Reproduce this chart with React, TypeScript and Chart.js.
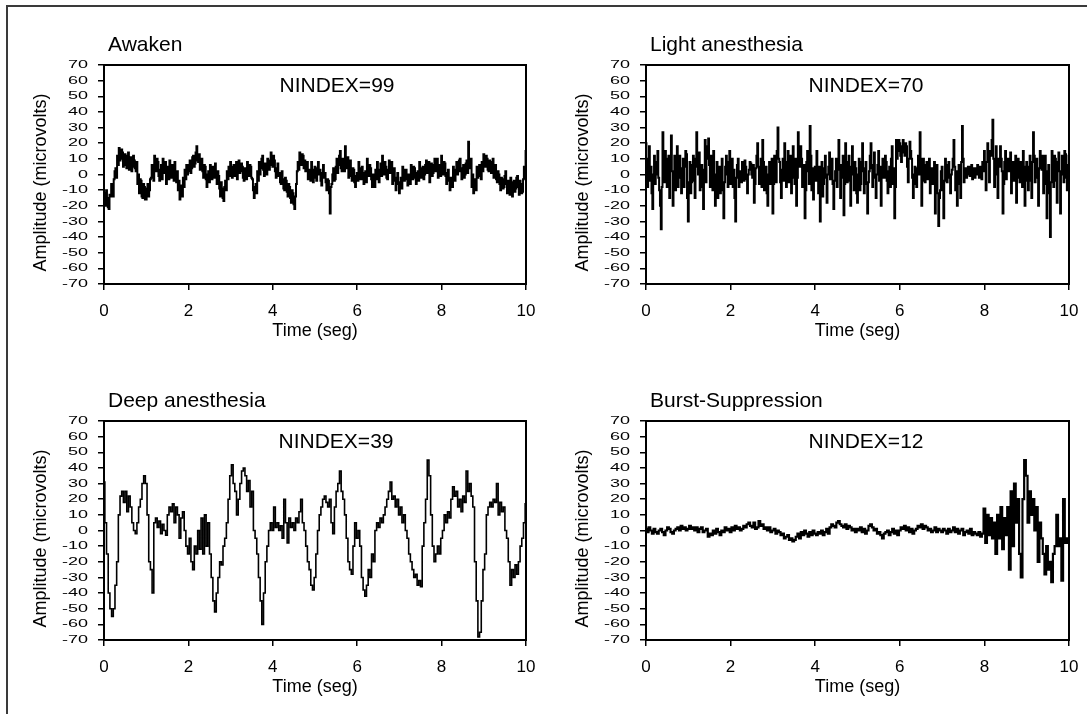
import React, { useEffect, useRef } from "react";
import { Chart, registerables } from "chart.js";

Chart.register(...registerables);

const FONT = '"Liberation Sans", Arial, Helvetica, sans-serif';
Chart.defaults.font.family = FONT;
Chart.defaults.color = "#000";

// ---------- data ----------
const TIME_TICKS = [0, 2, 4, 6, 8, 10];
const AMPLITUDE_TICKS = [70, 60, 50, 40, 30, 20, 10, 0, -10, -20, -30, -40, -50, -60, -70];
const PANEL_TITLES = ["Awaken", "Light anesthesia", "Deep anesthesia", "Burst-Suppression"];
const NINDEX_LABELS = ["NINDEX=99", "NINDEX=70", "NINDEX=39", "NINDEX=12"];
const X_AXIS_TITLE = "Time (seg)";
const Y_AXIS_TITLE = "Amplitude (microvolts)";
// seconds between samples, one per panel
const SAMPLE_INTERVALS = [0.02, 0.02, 0.04, 0.04];

const awakenEEG = [
  -12, -18, -20, -10, -15, -21, -22, -13, -14, -6, -8, -14, -3, 2, 4, -2, 12, 6, 17, 9, 10, 16, 14, 5, 6, 13, 12, 4, 8, 14, 3, 9, 11, 2, 5, 12, 9, 4, 2, 8, -6, 0, -12, -3, -4, -14, -15, -6, -8, -16,
  -16, -9, -6, -14, -10, -3, -2, 6, 4, -4, 12, 5, 2, 10, 8, -1, -4, 3, 6, -3, 10, 3, 1, 8, -6, 0, 5, -3, 9, 2, -2, 6, 3, -4, 8, 0, -5, 2, -10, -4, -16, -11, -7, -14, -2, -8, 3, -3, 6, 0,
  2, 6, 9, 1, 4, 11, 12, 5, 7, 14, 18, 9, 8, 13, 3, 10, 10, 2, -2, 6, 5, -3, -8, 0, 2, -5, 6, -1, -3, 5, 4, -2, 7, 0, -6, 2, -1, -9, -14, -5, -9, -15, -17, -8, -4, -10, 2, -3, 5, -1,
  8, 1, -2, 5, 6, -1, 4, 8, -3, 3, 9, 1, 2, 7, 5, -2, -4, 4, 3, -3, 8, 2, -1, 6, 5, -2, -3, -10, -15, -8, -6, -12, 2, -4, 8, 0, 4, 10, 12, 3, -1, 7, 6, 0, 10, 4, 3, 9, 14, 6,
  5, 12, 9, 2, -2, 4, 7, -1, 1, -5, -6, 2, -3, -9, -10, -2, -4, -11, -14, -6, -8, -15, -18, -10, -12, -19, -22, -14, -6, 2, 8, 3, 14, 7, 6, 13, 12, 4, 9, 2, 4, 8, -3, 3, 2, -4, 8, 1, -5, 3,
  5, -2, -4, 4, 8, 0, 3, -4, -7, 1, 6, -2, 1, -5, -10, -3, -4, -12, -25, -8, -6, 0, 4, -4, -3, 5, 10, 1, 6, 12, 15, 4, 2, 10, 8, 2, 18, 6, 4, 11, -2, 5, 9, -1, -4, 4, 3, -5, -8, -1,
  1, -4, 8, 0, -3, 4, 5, -3, -6, 1, 2, -5, 10, 3, -1, 6, 4, -3, -8, 0, -2, -8, 3, -3, 8, 1, -5, 3, 7, -1, 12, 4, 0, 8, 5, -2, -3, 3, 9, 1, 2, 8, -6, 0, 4, -4, -10, -2, 1, -6,
  -12, -5, -2, -9, 5, -1, -4, 3, 3, -3, -7, 0, 0, -6, 6, 0, -3, 5, 4, -2, -6, 1, 2, -4, 8, 1, -2, 4, 5, -3, 0, 6, 9, 1, 3, 8, -5, 2, 7, -1, 1, 6, 10, 2, 4, 10, -2, 4, 6, -1,
  12, 4, 0, 8, 7, -1, -6, 1, 3, -4, -10, -2, -2, -8, 5, -1, -4, 3, 8, 0, 2, 9, 10, 2, -3, 4, 6, -2, 0, 7, 9, 1, 21, 6, 4, 10, -8, 0, -12, -4, -3, -10, 5, -2, -1, 6, 3, -3, 8, 2,
  13, 6, 5, 12, 10, 3, 2, 9, 8, 1, 4, 10, -2, 3, 6, -3, -5, 2, 0, -6, -10, -2, -3, -9, -8, -1, 2, -6, -12, -4, -6, -13, -2, -8, -14, -5, -4, -11, -9, -2, -1, -8, -13, -4, -6, -12, -11, -3, 5, -2,
  15,
];

const lightEEG = [
  20, 2, -8, 10, 18, -4, 5, -12, -22, 0, 12, -6, 0, 8, 15, -2, -10, -20, -35, -8, 27, 4, -5, 15, 10, -8, 3, 12, -15, 6, 25, 2, -20, -5, 12, -10, 2, 18, -8, 5, 12, -2, -12, 4, 10, -8, 5, 15, 13, -15,
  -30, -5, 8, -12, -5, 6, 12, -4, -15, 10, 27, 5, 0, 14, -10, 2, 6, -8, -22, 3, 22, -5, 10, 18, 23, 6, -8, 12, 4, -10, 15, 0, -20, -6, 8, -15, -5, 5, -12, 2, 10, -10, -28, -5, 5, 12, 0, -8, 8, 15,
  -6, 4, 10, -8, 3, -15, -30, -2, 6, 10, -8, 0, 2, -5, 8, 2, -4, 9, 5, -3, -12, 0, 3, 8, 7, 0, -2, 6, -18, -6, 4, 12, 20, 5, -6, 2, 10, -8, 22, 8, -10, 2, 5, -12, -20, 0, 8, -6, -3, 10,
  -25, -6, 12, 0, -5, 15, 30, 10, 8, -5, -15, 3, 10, -4, 20, 5, -8, 8, 15, -5, 3, 12, -12, 4, 18, -2, -6, 10, -20, -2, 27, 8, 5, 18, 10, -8, -4, 6, -28, -10, 8, 15, 2, -6, 31, 12, -10, 4, -16, 0,
  5, -4, 15, 2, -12, 5, -30, -8, 8, -14, -6, 4, 12, -2, -18, 0, 5, 14, -3, 6, 10, -6, -22, -4, 2, 10, -8, 3, 22, 6, -15, -2, 6, 12, -26, -6, 20, 2, -5, 8, 12, -4, -20, 5, 18, 0, -10, 8, 4, -12,
  -18, 0, 10, -10, -6, 8, 20, 2, -12, 4, 8, -6, -25, -5, 2, 12, 20, 4, -8, 6, 14, -2, -15, 0, 6, 15, -4, 5, -20, -2, 10, 0, -2, 12, 8, -4, -12, 2, 5, -8, 10, 18, -6, 4, -28, -8, 22, 10, 15, 22,
  20, 12, 8, 18, 22, 14, 12, 20, 18, 5, -5, 10, 21, 15, 10, -2, -15, 0, 5, -6, -8, 4, 12, 0, 27, 10, -20, -4, 10, 2, -5, 6, 8, -3, 2, 10, -12, 0, 4, -6, -2, 8, -25, -8, 6, -12, -33, -15, -10, 2,
  5, -10, -28, -4, 10, 2, -5, 6, 8, -2, -12, 0, 3, 10, 22, 5, -10, 2, -20, -6, 6, -2, -15, 8, 31, 10, -5, 2, 4, -2, 0, 5, 5, -1, 2, 6, -3, 2, 4, -2, 0, 4, 6, 0, -2, 5, 3, -3, 8, 2,
  15, 4, -10, 8, 20, 10, -5, 15, 12, 22, 35, 10, -8, 5, 18, 0, -15, 10, 5, 18, 10, 2, -25, -6, 8, 15, -3, 6, 10, 2, 5, 14, -12, 0, 8, -4, 2, 12, -18, -2, 10, 4, -5, 8, 6, -8, 15, 5, -20, -4,
  8, 0, -10, 5, 12, -4, -15, 8, 27, 12, -5, 6, 10, -2, -20, 4, 15, 8, 3, 12, -12, 5, 12, -6, -28, 2, 6, -12, -40, -5, 15, 2, -8, 12, 10, -4, -18, 8, 14, 2, -25, 0, 12, 4, -5, 15, 13, -2, -10, 6,
  12,
];

const deepEEG = [
  31, 5, -15, -40, -50, -55, -50, -35, -20, 10, 22, 25, 18, 25, 12, 22, 15, 5, 0, -2, 5, 15, 20, 30, 35,
  30, 10, -20, -25, -40, 5, 8, 2, 6, -2, 4, 0, -3, 10, 15, 12, 17, 5, 15, 10, -5, 8, 12, 0, -10,
  -15, -5, -20, -25, -10, -15, 0, -12, 8, -15, 10, -10, 5, -15, -30, -45, -52, -40, -30, -20, -22, -10, -5, 5, 20,
  35, 42, 30, 25, 10, 20, 30, 38, 40, 35, 25, 32, 15, 25, 0, -5, -15, -30, -45, -60, -40, -20, -10, 0, 5,
  0, 15, 2, 5, 0, 3, -5, 20, 5, -8, 8, 2, 5, 0, 8, 5, 12, 20, 5, 0, -10, -20, -25, -35, -38,
  -30, -15, 0, 10, 15, 20, 22, 18, 15, 20, 5, -2, 15, 25, 30, 38, 25, 20, 10, -5, -20, -25, -28, -10, 5,
  -5, 0, -10, -30, -38, -42, -35, -25, -30, -15, -20, 0, 5, 2, 8, 5, 10, 15, 20, 25, 31, 20, 22, 15, 20,
  10, 15, 5, 10, 0, -5, -15, -20, -25, -30, -28, -35, -32, -36, -10, 5, 20, 45, 35, 10, -10, -20, -15, -10, -15,
  -5, 0, 10, 5, 12, 8, 20, 28, 22, 25, 15, 20, 12, 22, 18, 38, 25, 30, 22, 15, -20, -45, -68, -65, -45,
  -25, -15, 10, 15, 18, 15, 20, 18, 30, 10, 18, 12, 15, 0, -5, -20, -35, -25, -30, -22, -28, -20, -10, -5, 5,
  17,
];

const burstEEG = [
  1, -1, 2, 0, -2, 1, -1, -2, 0, 1, -1, -3, 0, 2, 1, -1, -2, 0, 1, 2, 0, 3, 1, 2, 0,
  1, 3, 1, 2, 0, 2, -1, 1, 2, -1, 0, 1, -4, -2, -3, 0, -2, 1, -1, -3, 0, -1, 2, 0, 1,
  -1, 2, 0, 3, 1, 2, 0, 1, 3, 2, 4, 5, 3, 2, 5, 1, 2, 6, 3, 4, 1, 2, 0, 2, -1,
  0, 1, -2, 0, -1, -3, -2, -5, -4, -3, -6, -5, -7, -6, -4, -2, -5, -1, -3, 0, -2, -4, -1, -3, 0,
  -2, -3, -1, -2, 0, -3, -1, 1, -2, 2, 4, 3, 2, 5, 6, 4, 3, 2, 4, 1, 3, 2, 0, 1, -1,
  1, 0, 2, -1, 1, -2, 0, 3, 4, 2, 0, 1, -2, -1, -3, -5, -2, -1, 0, -3, -1, 1, -2, 0, -3,
  0, 2, 1, 3, 0, 2, -1, 1, -2, 0, 1, 3, 2, 4, 1, 3, 2, 0, 1, -1, 0, 2, -1, 1, 0,
  -1, 1, 0, -2, 1, -1, 0, 2, -1, 1, -2, 0, 1, -3, -1, 0, -2, 1, -3, -1, -2, -3, -1, -4, -2,
  14, -8, 10, -3, 8, -5, 5, -15, 10, -5, 15, -12, 8, -3, 15, -25, 25, -10, 30, 5, 20, -15, -30, 20, 45,
  35, 5, 25, 10, 20, 0, 15, -20, 5, -5, -15, -28, -10, -25, -20, -33, -15, -10, 10, -10, -5, -32, 20, -8, -5,
  -8,
];

const SERIES = [awakenEEG, lightEEG, deepEEG, burstEEG];

// ---------- layout ----------
const CANVAS_H = 340;
const Y_AXIS_W = 94;
const X_AXIS_H = 58;
const PANELS = [
  { left: 10, top: 10, width: 540, padRight: 24, nindexDx: 233, lineWidth: 2 },
  { left: 552, top: 10, width: 535, padRight: 18, nindexDx: 220, lineWidth: 2 },
  { left: 10, top: 366, width: 540, padRight: 24, nindexDx: 232, lineWidth: 1.6 },
  { left: 552, top: 366, width: 535, padRight: 18, nindexDx: 220, lineWidth: 2.2 },
];

function EEGPanel({ index }: { index: number }) {
  const ref = useRef<HTMLCanvasElement | null>(null);
  const p = PANELS[index];

  useEffect(() => {
    const canvas = ref.current;
    if (!canvas) return;
    const values = SERIES[index];
    const dt = SAMPLE_INTERVALS[index];
    const points = values.map((v, i) => ({ x: Math.round(i * dt * 1000) / 1000, y: v }));

    const decor = {
      id: "panelDecor",
      afterDatasetsDraw(chart: any) {
        const { ctx, chartArea: a } = chart;
        ctx.save();
        ctx.strokeStyle = "#000";
        ctx.lineWidth = 2;
        ctx.strokeRect(a.left, a.top, a.right - a.left, a.bottom - a.top);
        ctx.restore();
      },
      afterDraw(chart: any) {
        const { ctx, chartArea: a, scales } = chart;
        ctx.save();
        ctx.fillStyle = "#000";
        // y tick labels (condensed vertically like the original)
        ctx.font = `18px ${FONT}`;
        ctx.textAlign = "right";
        ctx.textBaseline = "middle";
        for (const v of AMPLITUDE_TICKS) {
          const y = scales.y.getPixelForValue(v);
          ctx.save();
          ctx.translate(a.left - 16, y);
          ctx.scale(1, 0.62);
          ctx.fillText(String(v), 0, 0);
          ctx.restore();
        }
        // y axis title
        ctx.save();
        ctx.translate(a.left - 63, (a.top + a.bottom) / 2 + 8);
        ctx.rotate(-Math.PI / 2);
        ctx.font = `18px ${FONT}`;
        ctx.textAlign = "center";
        ctx.textBaseline = "middle";
        ctx.fillText(Y_AXIS_TITLE, 0, 0);
        ctx.restore();
        // panel title
        ctx.font = `21px ${FONT}`;
        ctx.textAlign = "left";
        ctx.textBaseline = "alphabetic";
        ctx.fillText(PANEL_TITLES[index], a.left + 4, a.top - 14);
        // NINDEX annotation
        ctx.textAlign = "center";
        ctx.fillText(NINDEX_LABELS[index], a.left + p.nindexDx, a.top + 27);
        ctx.restore();
      },
    };

    const chart = new Chart(canvas, {
      type: "line",
      data: {
        datasets: [
          {
            data: points,
            borderColor: "#000",
            borderWidth: p.lineWidth,
            pointRadius: 0,
            stepped: "middle",
            fill: false,
          },
        ],
      },
      options: {
        animation: false,
        responsive: false,
        maintainAspectRatio: false,
        parsing: false,
        events: [],
        layout: { padding: { left: 0, top: 55, right: p.padRight, bottom: 8 } },
        plugins: { legend: { display: false }, tooltip: { enabled: false }, title: { display: false } },
        scales: {
          x: {
            type: "linear",
            min: 0,
            max: 10,
            afterBuildTicks: (s: any) => {
              s.ticks = TIME_TICKS.map((v) => ({ value: v }));
            },
            afterFit: (s: any) => {
              s.height = X_AXIS_H;
              s.paddingLeft = 0;
              s.paddingRight = 0;
            },
            ticks: { color: "#000", font: { size: 17, family: FONT }, padding: 11, maxRotation: 0, autoSkip: false },
            grid: { drawOnChartArea: false, drawTicks: true, tickLength: 6, tickColor: "#000", color: "#000", lineWidth: 1.5 },
            border: { display: false },
            title: { display: true, text: X_AXIS_TITLE, color: "#000", font: { size: 18, family: FONT }, padding: 0 },
          },
          y: {
            type: "linear",
            min: -70,
            max: 70,
            afterBuildTicks: (s: any) => {
              s.ticks = AMPLITUDE_TICKS.map((v) => ({ value: v }));
            },
            afterFit: (s: any) => {
              s.width = Y_AXIS_W;
              s.paddingTop = 0;
              s.paddingBottom = 0;
            },
            ticks: { callback: () => "", autoSkip: false },
            grid: { drawOnChartArea: false, drawTicks: true, tickLength: 6, tickColor: "#000", color: "#000", lineWidth: 1.5 },
            border: { display: false },
          },
        },
      },
      plugins: [decor],
    } as any);

    return () => chart.destroy();
  }, [index]);

  return (
    <canvas
      ref={ref}
      width={p.width}
      height={CANVAS_H}
      style={{ position: "absolute", left: p.left, top: p.top, width: p.width, height: CANVAS_H }}
    />
  );
}

export default function App() {
  return (
    <div
      style={{
        position: "absolute",
        left: 0,
        top: 0,
        width: 1087,
        height: 714,
        overflow: "hidden",
        background: "#fff",
      }}
    >
      <div
        style={{
          position: "absolute",
          left: 6,
          top: 5,
          width: 1200,
          height: 800,
          borderLeft: "2px solid #3a3a3a",
          borderTop: "2px solid #3a3a3a",
        }}
      />
      {PANELS.map((_, i) => (
        <EEGPanel key={i} index={i} />
      ))}
    </div>
  );
}
